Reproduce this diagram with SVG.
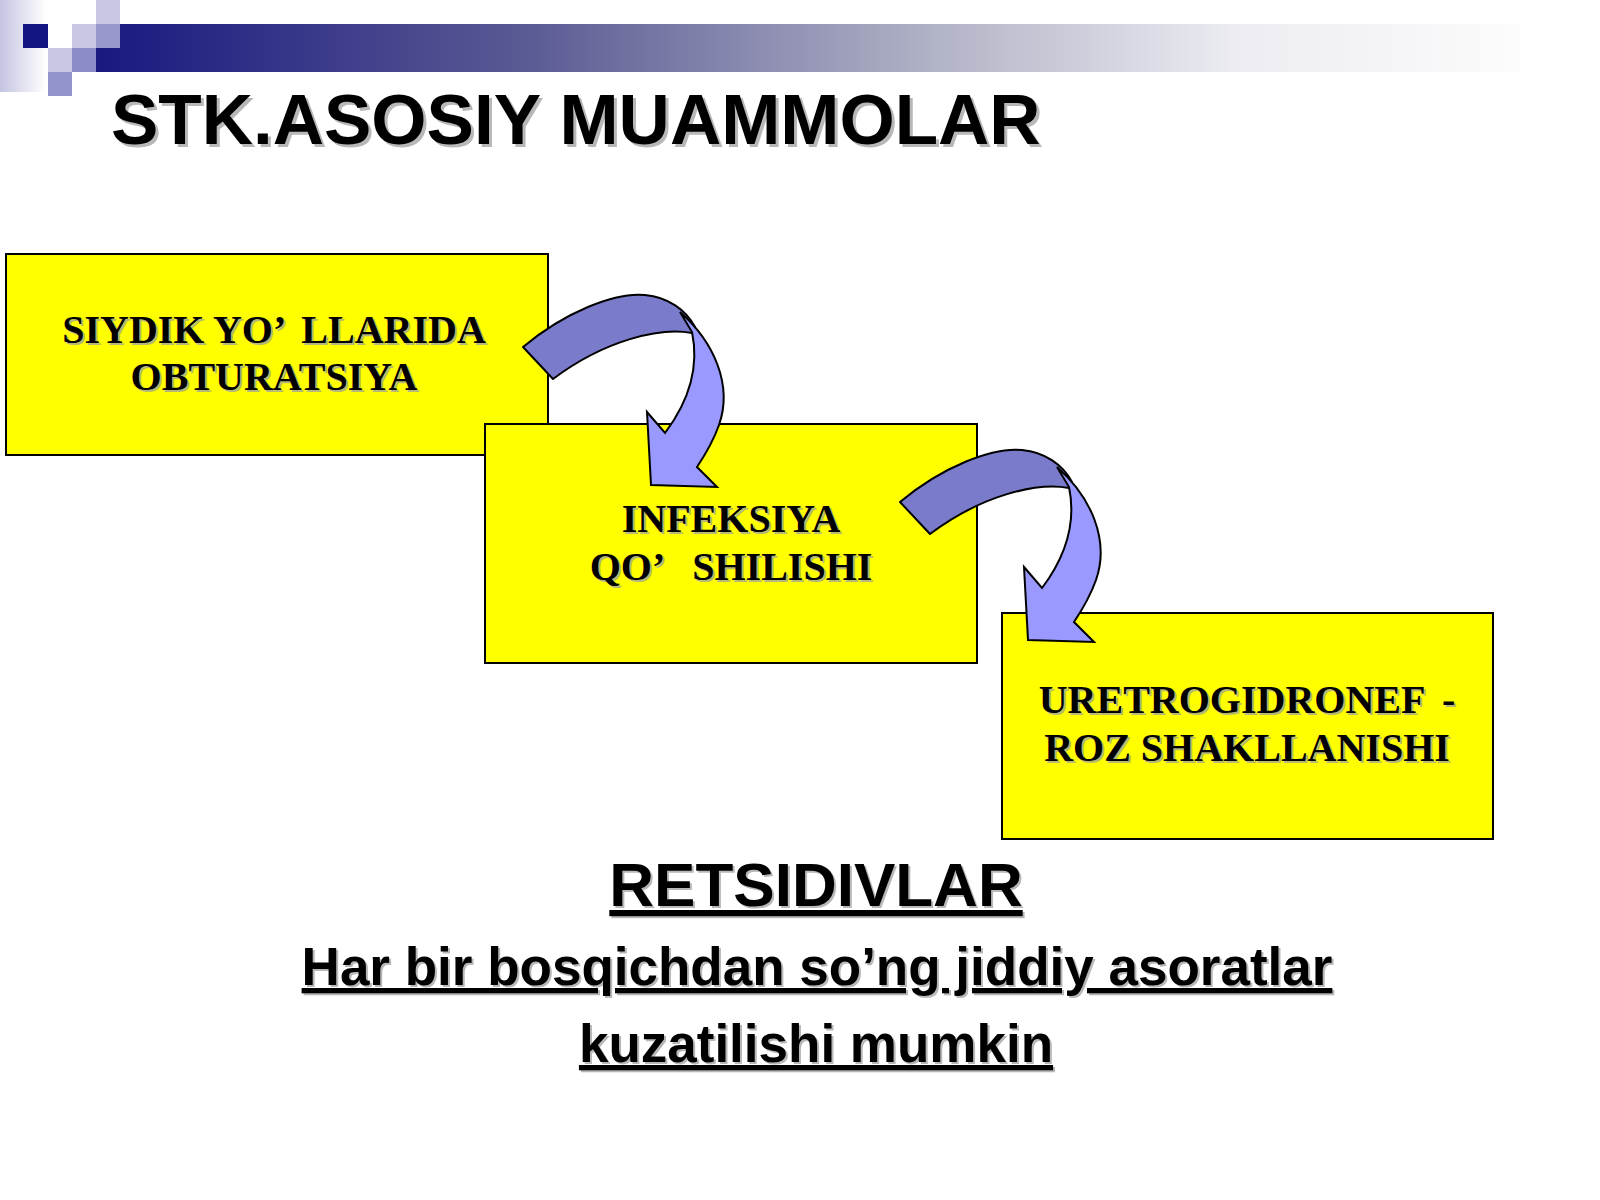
<svg xmlns="http://www.w3.org/2000/svg" width="1600" height="1200" viewBox="0 0 1600 1200">
<defs>
<linearGradient id="barGrad" x1="0" y1="0" x2="1" y2="0">
<stop offset="0" stop-color="#181880"/>
<stop offset="0.3" stop-color="#5a5a94"/>
<stop offset="0.6" stop-color="#b4b6c8"/>
<stop offset="0.8" stop-color="#ececf2"/>
<stop offset="1" stop-color="#fcfcfc"/>
</linearGradient>
<linearGradient id="stripGrad" x1="0" y1="0" x2="1" y2="0">
<stop offset="0" stop-color="#c4c4e2"/>
<stop offset="1" stop-color="#ffffff"/>
</linearGradient>
<g id="curvedArrow">
<path class="arrBack" d="M523,347 C565,312 615,292 645,295 C668,297 686,310 695,327 L692,333 C660,327 605,340 553,379 Z"/>
<path class="arrFront" d="M680,312 C714,342 733,385 719,425 C713,442 705,455 697,467 L717,487 L651,485 L647,412 L665,433 C686,405 700,370 692,332 Z"/>
</g>
</defs>
<style>
.box{fill:#ffff00;stroke:#000;stroke-width:2}
.btxt{font-family:"Liberation Serif","Times New Roman",serif;font-weight:bold;font-size:40px;text-anchor:middle;fill:#000}
.bsh{font-family:"Liberation Serif","Times New Roman",serif;font-weight:bold;font-size:40px;text-anchor:middle;fill:#b8b878}
.arrBack{fill:#7b7bcc;stroke:#000;stroke-width:2;stroke-linejoin:round}
.arrFront{fill:#9999ff;stroke:#000;stroke-width:2;stroke-linejoin:miter}
.title{font-family:"Liberation Sans",Arial,sans-serif;font-weight:bold;font-size:71px}
.sub{font-family:"Liberation Sans",Arial,sans-serif;font-weight:bold;text-anchor:middle;text-decoration:underline}
</style>
<rect width="1600" height="1200" fill="#ffffff"/>
<g id="header">
<rect x="0" y="0" width="46" height="92" fill="url(#stripGrad)"/>
<rect x="96" y="24" width="1424" height="48" fill="url(#barGrad)"/>
<rect x="23" y="24" width="25" height="24" fill="#141482"/>
<rect x="96" y="0" width="24" height="24" fill="#c8c8e4"/>
<rect x="72" y="24" width="24" height="24" fill="#c8c8e4"/>
<rect x="96" y="24" width="24" height="24" fill="#9898cc"/>
<rect x="48" y="48" width="24" height="24" fill="#c8c8e4"/>
<rect x="72" y="48" width="24" height="24" fill="#8c8cc8"/>
<rect x="48" y="72" width="24" height="24" fill="#9494cc"/>
<text class="title" x="114" y="147" fill="#b8b8b8">STK.ASOSIY MUAMMOLAR</text>
<text class="title" x="111" y="144" fill="#000000">STK.ASOSIY MUAMMOLAR</text>
</g>
<g id="node1">
<rect class="box" x="6" y="254" width="542" height="201"/>
<text class="bsh" x="276" y="345">SIYDIK YO’<tspan dx="8"> LLARIDA</tspan></text>
<text class="bsh" x="276" y="392">OBTURATSIYA</text>
<text class="btxt" x="274" y="343">SIYDIK YO’<tspan dx="8"> LLARIDA</tspan></text>
<text class="btxt" x="274" y="390">OBTURATSIYA</text>
</g>
<g id="node2">
<rect class="box" x="485" y="424" width="492" height="239"/>
<text class="bsh" x="733" y="534">INFEKSIYA</text>
<text class="bsh" x="733" y="582">QO’<tspan dx="20"> SHILISHI</tspan></text>
<text class="btxt" x="731" y="532">INFEKSIYA</text>
<text class="btxt" x="731" y="580">QO’<tspan dx="20"> SHILISHI</tspan></text>
</g>
<g id="node3">
<rect class="box" x="1002" y="613" width="491" height="226"/>
<text class="bsh" x="1249" y="715">URETROGIDRONEF<tspan dx="8"> -</tspan></text>
<text class="bsh" x="1249" y="763">ROZ SHAKLLANISHI</text>
<text class="btxt" x="1247" y="713">URETROGIDRONEF<tspan dx="8"> -</tspan></text>
<text class="btxt" x="1247" y="761">ROZ SHAKLLANISHI</text>
</g>
<g id="connectors">
<use href="#curvedArrow"/>
<use href="#curvedArrow" transform="translate(377,155)"/>
</g>
<g id="footer">
<text class="sub" x="818" y="908" font-size="62" fill="#b8b8b8">RETSIDIVLAR</text>
<text class="sub" x="816" y="906" font-size="62" fill="#000">RETSIDIVLAR</text>
<text class="sub" x="819" y="987" font-size="53" fill="#b8b8b8">Har bir bosqichdan so’ng jiddiy asoratlar</text>
<text class="sub" x="817" y="985" font-size="53" fill="#000">Har bir bosqichdan so’ng jiddiy asoratlar</text>
<text class="sub" x="818" y="1064" font-size="53" fill="#b8b8b8">kuzatilishi mumkin</text>
<text class="sub" x="816" y="1062" font-size="53" fill="#000">kuzatilishi mumkin</text>
</g>
</svg>
